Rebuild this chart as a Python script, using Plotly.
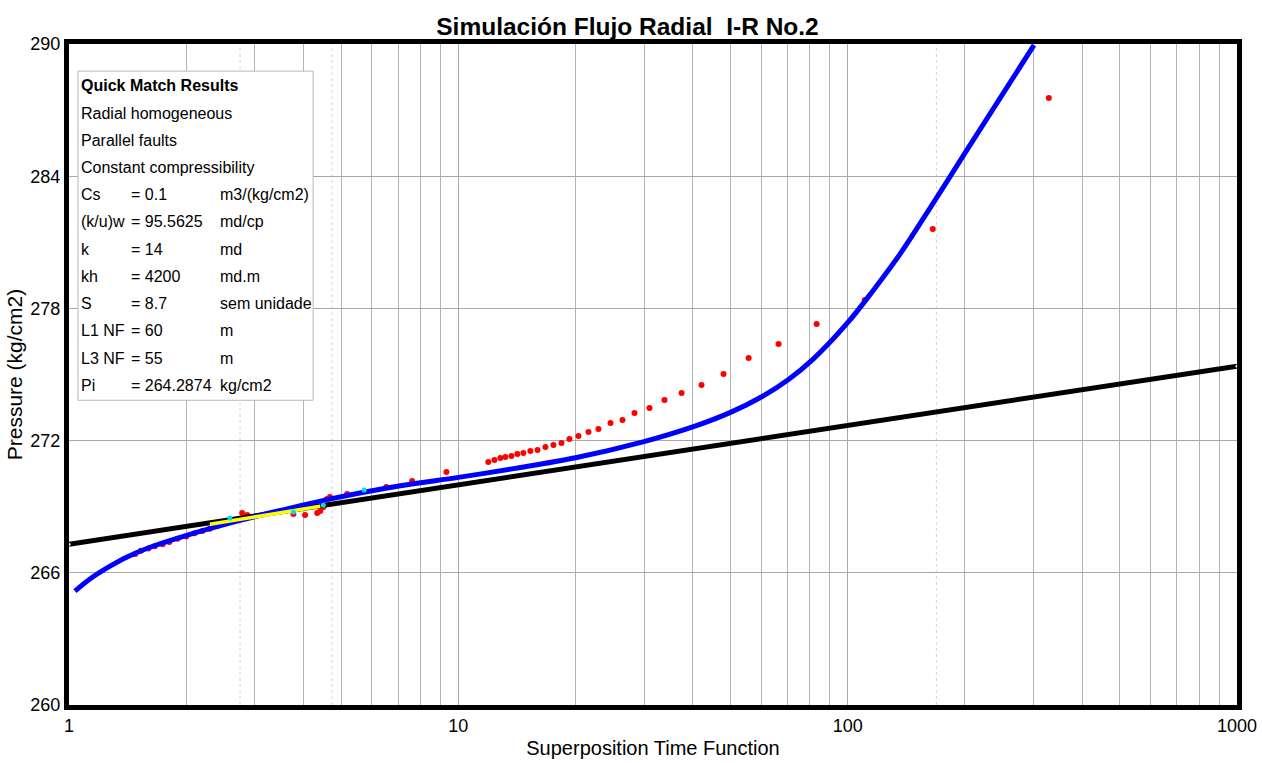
import plotly.graph_objects as go

# ---------------- data ----------------
obs_x = [1.48, 1.53, 1.60, 1.66, 1.74, 1.81, 1.90, 2.00, 2.10, 2.20, 2.30, 2.42, 2.55,
         2.785, 2.87, 3.77, 4.04, 4.34, 4.42, 4.50, 4.60, 4.68, 5.18, 6.53, 7.61, 9.32,
         11.94, 12.38, 12.82, 13.21, 13.69, 14.18, 14.69, 15.31, 15.97, 16.74, 17.55,
         18.40, 19.29, 20.35, 21.59, 22.90, 24.59, 26.40, 28.35, 30.97, 33.85, 37.44,
         42.14, 47.99, 55.67, 66.45, 83.24, 110.6, 165.4, 328.6]
obs_y = [266.85, 267.0, 267.1, 267.2, 267.3, 267.4, 267.55, 267.65, 267.8, 267.9, 268.0, 268.15, 268.3,
         268.71, 268.62, 268.67, 268.62, 268.71, 268.80, 268.98, 269.35, 269.44, 269.58, 269.89, 270.17, 270.57,
         271.03, 271.12, 271.21, 271.26, 271.30, 271.39, 271.44, 271.53, 271.57, 271.71, 271.80,
         271.89, 272.07, 272.21, 272.39, 272.53, 272.80, 272.93, 273.25, 273.48, 273.84, 274.16,
         274.52, 275.02, 275.75, 276.38, 277.29, 278.38, 281.60, 287.55]

model_x = [1.036, 1.132, 1.275, 1.41, 1.615, 1.987, 2.75, 3.49, 4.6, 7.1, 10.0, 14.0, 20.0,
           29.8, 40.0, 50.0, 60.0, 70.2, 81.8, 100.0, 116.7, 136.7, 166.8, 199.3, 301.0]
model_y = [265.17, 265.72, 266.30, 266.72, 267.16, 267.68, 268.38, 268.83, 269.32, 269.95, 270.33, 270.74, 271.22,
           271.94, 272.62, 273.28, 273.98, 274.75, 275.72, 277.35, 278.85, 280.50, 282.85, 285.00, 289.95]

semilog_x = [1.0, 1000.0]
semilog_y = [267.30, 275.38]

sel_x = [2.30, 4.42]
sel_y = [268.20, 269.02]

cyan_x = [2.59, 3.77, 4.50, 5.73]
cyan_y = [268.49, 268.76, 269.07, 269.76]

marker_times = [2.75, 4.74, 169.0]

x_ticks = [1, 10, 100, 1000]
y_ticks = [260, 266, 272, 278, 284, 290]

box_rows = [
    ("Radial homogeneous", "", ""),
    ("Parallel faults", "", ""),
    ("Constant compressibility", "", ""),
    ("Cs", "= 0.1", "m3/(kg/cm2)"),
    ("(k/u)w", "= 95.5625", "md/cp"),
    ("k", "= 14", "md"),
    ("kh", "= 4200", "md.m"),
    ("S", "= 8.7", "sem unidade"),
    ("L1 NF", "= 60", "m"),
    ("L3 NF", "= 55", "m"),
    ("Pi", "= 264.2874", "kg/cm2"),
]

# ---------------- figure ----------------
FONT = "Liberation Sans, Arial, sans-serif"
BOX_SIZE = 16

fig = go.Figure()

fig.add_trace(go.Scatter(x=obs_x, y=obs_y, mode="markers",
                         marker=dict(color="#ff0000", size=6), hoverinfo="skip"))
fig.add_trace(go.Scatter(x=semilog_x, y=semilog_y, mode="lines+markers",
                         line=dict(color="black", width=5),
                         marker=dict(color="white", size=3), hoverinfo="skip"))
fig.add_trace(go.Scatter(x=model_x, y=model_y, mode="lines", line_shape="spline",
                         line=dict(color="#0000ff", width=5, smoothing=1.0), hoverinfo="skip"))
fig.add_trace(go.Scatter(x=sel_x, y=sel_y, mode="lines",
                         line=dict(color="#ffff00", width=3.5), hoverinfo="skip"))
fig.add_trace(go.Scatter(x=cyan_x, y=cyan_y, mode="markers",
                         marker=dict(color="#00e0e8", size=5), hoverinfo="skip"))

for t in marker_times:
    fig.add_shape(type="line", xref="x", yref="paper", x0=t, x1=t, y0=0, y1=1,
                  line=dict(color="#d4d4d4", width=1, dash="dot"), layer="below")

# info box
bx0, bx1, by0, by1 = 0.0077, 0.209, 0.461, 0.959
fig.add_shape(type="rect", xref="paper", yref="paper", x0=bx0, x1=bx1, y0=by0, y1=by1,
              line=dict(color="#b8b8b8", width=1), fillcolor="white", layer="above")

row_h = 27.2 / 661.0
ytop = (705 - 86) / 661.0
fig.add_annotation(xref="paper", yref="paper", x=bx0 + 0.0005, y=ytop, xanchor="left", yanchor="middle",
                   text="<b>Quick Match Results</b>", showarrow=False,
                   font=dict(family=FONT, size=BOX_SIZE, color="black"))
col_eq = (129 - 69) / 1168.0
col_unit = (218 - 69) / 1168.0
for i, (lab, eq, unit) in enumerate(box_rows):
    yy = ytop - (i + 1) * row_h
    fig.add_annotation(xref="paper", yref="paper", x=bx0 + 0.0005, y=yy, xanchor="left", yanchor="middle",
                       text=lab, showarrow=False, font=dict(family=FONT, size=BOX_SIZE, color="black"))
    if eq:
        fig.add_annotation(xref="paper", yref="paper", x=col_eq, y=yy, xanchor="left", yanchor="middle",
                           text=eq, showarrow=False, font=dict(family=FONT, size=BOX_SIZE, color="black"))
        fig.add_annotation(xref="paper", yref="paper", x=col_unit, y=yy, xanchor="left", yanchor="middle",
                           text=unit, showarrow=False, font=dict(family=FONT, size=BOX_SIZE, color="black"))

fig.update_layout(
    width=1262, height=763,
    margin=dict(l=69, r=25, t=44, b=58, autoexpand=False),
    paper_bgcolor="white", plot_bgcolor="white",
    showlegend=False,
    title=dict(text="<b>Simulación Flujo Radial  I-R No.2</b>", x=627.5 / 1262, xanchor="center",
               xref="container", y=1 - 26 / 763, yanchor="middle",
               font=dict(family=FONT, size=24.5, color="black")),
    xaxis=dict(type="log", range=[0, 3], tickvals=x_ticks, ticktext=[str(v) for v in x_ticks],
               automargin=False,
               showgrid=True, gridcolor="#a8a8a8", gridwidth=1,
               minor=dict(dtick="D1", showgrid=True, gridcolor="#b4b4b4", gridwidth=1),
               showline=True, linecolor="black", linewidth=5, mirror=True, ticks="",
               tickfont=dict(family=FONT, size=18, color="black"),
               title=dict(text="Superposition Time Function", standoff=8,
                          font=dict(family=FONT, size=20, color="black")),
               zeroline=False),
    yaxis=dict(range=[260, 290], tickvals=y_ticks, ticktext=[str(v) for v in y_ticks],
               automargin=False,
               showgrid=True, gridcolor="#a8a8a8", gridwidth=1,
               showline=True, linecolor="black", linewidth=5, mirror=True, ticks="",
               tickfont=dict(family=FONT, size=18, color="black"),
               title=dict(text="Pressure (kg/cm2)", standoff=4,
                          font=dict(family=FONT, size=21, color="black")),
               zeroline=False),
)

fig.write_html("out.html", config={"displayModeBar": False},
               post_script="document.body.style.margin='0';document.body.style.padding='0';")
